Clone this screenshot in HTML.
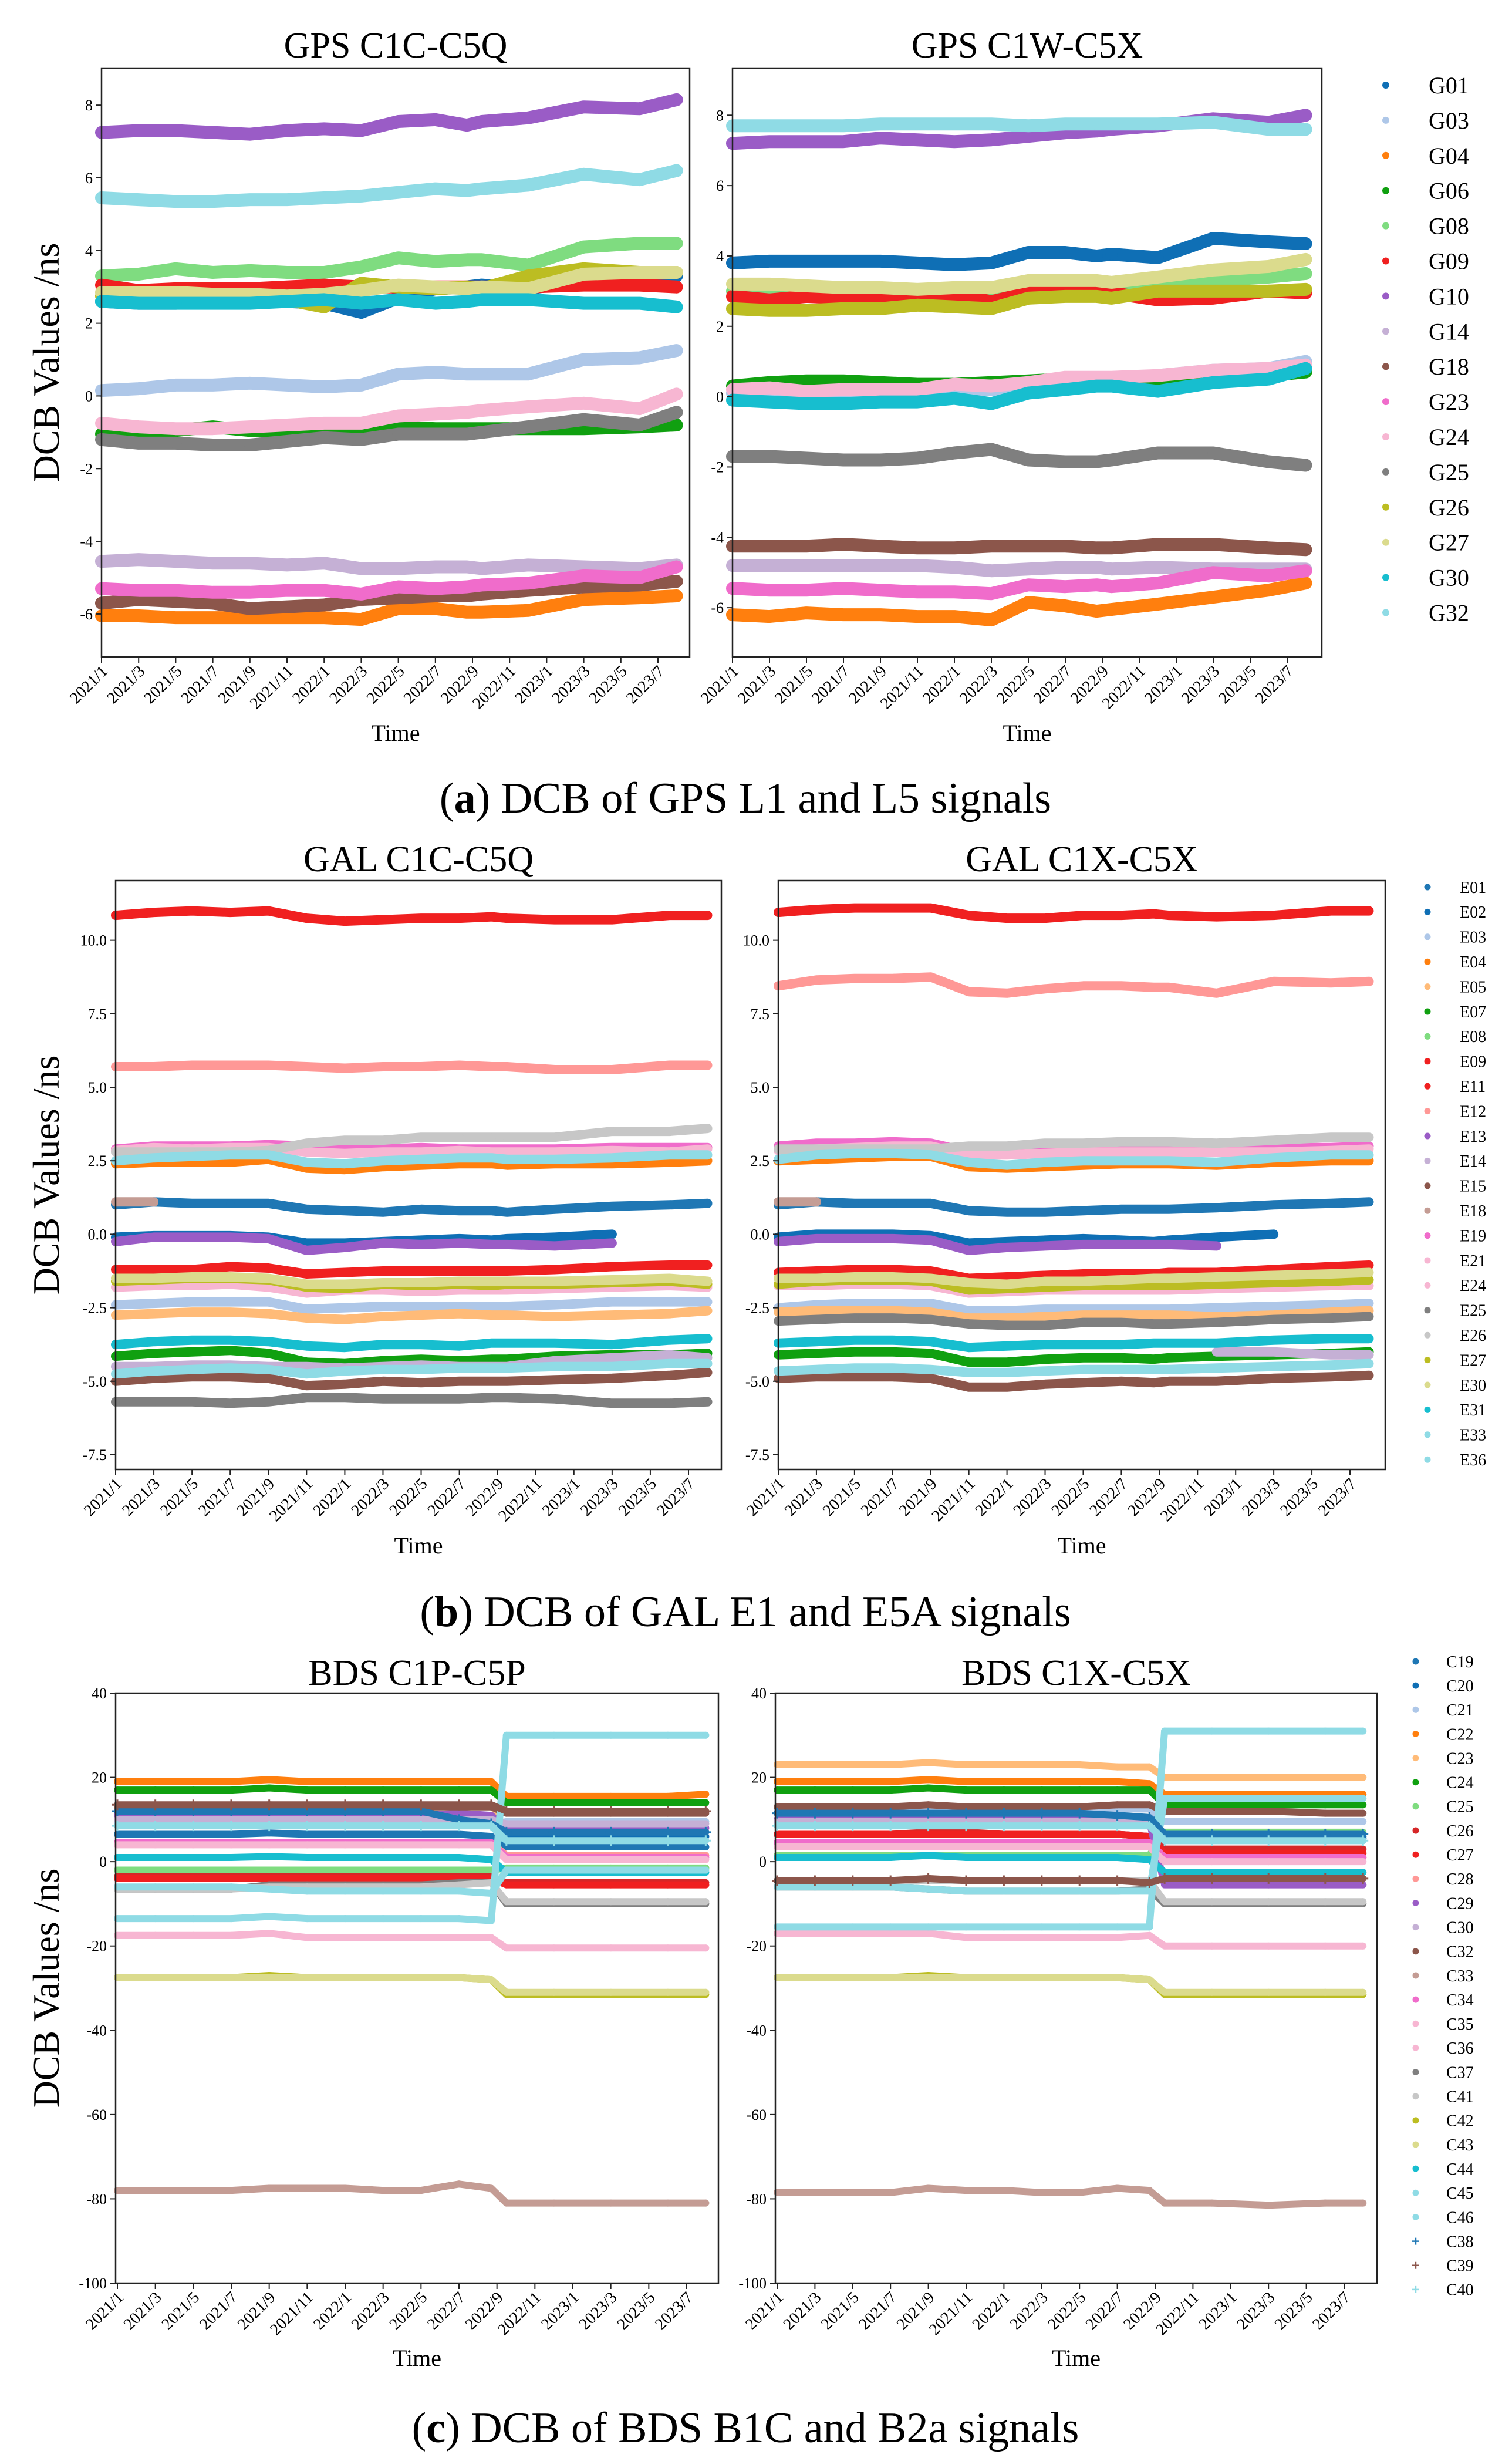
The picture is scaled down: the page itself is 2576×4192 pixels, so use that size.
<!DOCTYPE html>
<html><head><meta charset="utf-8"><title>DCB charts</title>
<style>
html,body{margin:0;padding:0;background:#fff;}
svg{display:block;font-family:"Liberation Serif",serif;}
</style></head>
<body>
<svg id="fig" xmlns="http://www.w3.org/2000/svg" width="2576" height="4192" viewBox="0 0 2576 4192">
<rect x="0" y="0" width="2576" height="4192" fill="#fff"/>
<text x="1270" y="1384" font-size="74" text-anchor="middle">(<tspan font-weight="bold">a</tspan>) DCB of GPS L1 and L5 signals</text>
<text x="1270" y="2770" font-size="74" text-anchor="middle">(<tspan font-weight="bold">b</tspan>) DCB of GAL E1 and E5A signals</text>
<text x="1270" y="4160" font-size="74" text-anchor="middle">(<tspan font-weight="bold">c</tspan>) DCB of BDS B1C and B2a signals</text>
</svg>
<script>
// ---------- shared time axis ----------
const months = [0,2,4,6,8,10,12,14,16,18,19.7,20.5,23,26,29,31];
const dateLabels = ["2021/1","2021/3","2021/5","2021/7","2021/9","2021/11","2022/1","2022/3","2022/5","2022/7","2022/9","2022/11","2023/1","2023/3","2023/5","2023/7"];
const dateTickMonths = [0,2,4,6,8,10,12,14,16,18,20,22,24,26,28,30];

// ---------- GPS ----------
const gpsNames = ["G01","G03","G04","G06","G08","G09","G10","G14","G18","G23","G24","G25","G26","G27","G30","G32"];
const gpsColors = ["#0f6fb5","#aec7e8","#ff7f0e","#10a010","#7fdc80","#f02020","#9a5cc6","#c5b0d5","#8c564b","#f06ccb","#f7b6d2","#7f7f7f","#bcbd22","#dbdb8d","#17becf","#8fdbe5"];
const gpsTicksLeft = [-6,-4,-2,0,2,4,6,8];
const gpsTicksRight = [-6,-4,-2,0,2,4,6,8];
const gpsLeftValues = [
 [2.6,2.55,2.55,2.6,2.6,2.6,2.55,2.3,2.7,2.95,3.0,3.05,2.95,3.2,3.3,3.3],
 [0.15,0.2,0.3,0.3,0.35,0.3,0.25,0.3,0.6,0.65,0.6,0.6,0.6,1.0,1.05,1.25],
 [-6.05,-6.05,-6.1,-6.1,-6.1,-6.1,-6.1,-6.15,-5.85,-5.85,-5.95,-5.95,-5.9,-5.6,-5.55,-5.5],
 [-1.05,-1.0,-0.95,-0.85,-0.95,-1.0,-1.0,-0.95,-0.85,-0.9,-0.9,-0.9,-0.9,-0.9,-0.85,-0.8],
 [3.3,3.35,3.5,3.4,3.45,3.4,3.4,3.55,3.8,3.7,3.75,3.75,3.6,4.1,4.2,4.2],
 [3.05,2.9,2.95,2.95,2.95,3.0,3.05,3.0,3.0,3.0,3.0,3.0,3.0,3.05,3.05,3.0],
 [7.25,7.3,7.3,7.25,7.2,7.3,7.35,7.3,7.55,7.6,7.45,7.55,7.65,7.95,7.9,8.15],
 [-4.55,-4.5,-4.55,-4.6,-4.6,-4.65,-4.6,-4.75,-4.75,-4.7,-4.7,-4.75,-4.65,-4.7,-4.75,-4.65],
 [-5.7,-5.6,-5.65,-5.7,-5.85,-5.8,-5.75,-5.6,-5.55,-5.5,-5.5,-5.45,-5.35,-5.25,-5.2,-5.1],
 [-5.3,-5.35,-5.35,-5.4,-5.4,-5.35,-5.35,-5.45,-5.25,-5.3,-5.25,-5.2,-5.15,-4.95,-5.0,-4.7],
 [-0.75,-0.85,-0.9,-0.9,-0.85,-0.8,-0.75,-0.75,-0.55,-0.5,-0.45,-0.4,-0.3,-0.2,-0.35,0.05],
 [-1.2,-1.3,-1.3,-1.35,-1.35,-1.25,-1.15,-1.2,-1.05,-1.05,-1.05,-1.0,-0.85,-0.65,-0.8,-0.45],
 [2.75,2.7,2.7,2.7,2.7,2.65,2.45,3.1,3.0,2.95,3.0,2.95,3.3,3.5,3.4,3.4],
 [2.85,2.85,2.85,2.8,2.8,2.75,2.8,2.9,3.05,3.0,2.95,3.0,2.95,3.35,3.4,3.4],
 [2.6,2.55,2.55,2.55,2.55,2.6,2.65,2.55,2.65,2.55,2.6,2.65,2.65,2.55,2.55,2.45],
 [5.45,5.4,5.35,5.35,5.4,5.4,5.45,5.5,5.6,5.7,5.65,5.7,5.8,6.1,5.95,6.2]
];
const gpsRightValues = [
 [3.8,3.85,3.85,3.85,3.85,3.8,3.75,3.8,4.1,4.1,4.0,4.05,3.95,4.5,4.4,4.35],
 [0.1,0.15,0.15,0.1,0.1,0.15,0.2,0.2,0.3,0.5,0.5,0.5,0.6,0.75,0.8,1.0],
 [-6.2,-6.25,-6.15,-6.2,-6.2,-6.25,-6.25,-6.35,-5.85,-5.95,-6.1,-6.05,-5.9,-5.7,-5.5,-5.3],
 [0.3,0.4,0.45,0.45,0.4,0.35,0.35,0.4,0.45,0.5,0.5,0.45,0.3,0.5,0.6,0.7],
 [3.0,3.0,3.0,3.0,2.95,2.95,2.95,2.95,3.2,3.15,3.1,3.1,3.1,3.3,3.4,3.5],
 [2.85,2.75,2.85,2.8,2.8,2.85,2.9,2.7,2.95,2.95,2.95,2.95,2.75,2.8,3.0,2.95],
 [7.2,7.25,7.25,7.25,7.35,7.3,7.25,7.3,7.4,7.5,7.55,7.6,7.7,7.9,7.8,8.0],
 [-4.8,-4.8,-4.8,-4.8,-4.8,-4.8,-4.85,-4.95,-4.9,-4.85,-4.85,-4.9,-4.85,-4.9,-4.9,-4.9],
 [-4.25,-4.25,-4.25,-4.2,-4.25,-4.3,-4.3,-4.25,-4.25,-4.25,-4.3,-4.3,-4.2,-4.2,-4.3,-4.35],
 [-5.45,-5.5,-5.5,-5.45,-5.5,-5.55,-5.55,-5.6,-5.35,-5.4,-5.35,-5.4,-5.3,-5.0,-5.1,-4.95],
 [0.2,0.25,0.15,0.2,0.2,0.2,0.35,0.3,0.4,0.55,0.55,0.55,0.6,0.75,0.8,0.9],
 [-1.7,-1.7,-1.75,-1.8,-1.8,-1.75,-1.6,-1.5,-1.8,-1.85,-1.85,-1.8,-1.6,-1.6,-1.85,-1.95],
 [2.5,2.45,2.45,2.5,2.5,2.6,2.55,2.5,2.8,2.85,2.85,2.8,3.0,3.0,3.0,3.05],
 [3.2,3.2,3.15,3.1,3.1,3.05,3.1,3.1,3.3,3.3,3.3,3.25,3.4,3.6,3.7,3.9],
 [-0.1,-0.15,-0.2,-0.2,-0.15,-0.15,-0.05,-0.2,0.1,0.2,0.3,0.3,0.15,0.4,0.5,0.8],
 [7.7,7.7,7.7,7.7,7.75,7.75,7.75,7.75,7.7,7.75,7.75,7.75,7.75,7.8,7.6,7.6]
];

// ---------- GAL ----------
const galNames = ["E01","E02","E03","E04","E05","E07","E08","E09","E11","E12","E13","E14","E15","E18","E19","E21","E24","E25","E26","E27","E30","E31","E33","E36"];
const galColors = ["#1f77b4","#0f6fb5","#aec7e8","#ff7f0e","#ffbb78","#10a010","#7fdc80","#f02020","#f02020","#ff9896","#9a5cc6","#c5b0d5","#8c564b","#c49c94","#f06ccb","#f7b6d2","#f7b6d2","#7f7f7f","#c7c7c7","#bcbd22","#dbdb8d","#17becf","#8fdbe5","#8fdbe5"];
const galTicks = [-7.5,-5.0,-2.5,0.0,2.5,5.0,7.5,10.0];
const N = null;
const galLeftValues = [
 [1.0,1.1,1.05,1.05,1.05,0.85,0.8,0.75,0.85,0.8,0.8,0.75,0.85,0.95,1.0,1.05],
 [-0.1,-0.05,-0.05,-0.05,-0.1,-0.3,-0.3,-0.25,-0.2,-0.15,-0.2,-0.15,-0.1,0.0,N,N],
 [-2.4,-2.35,-2.3,-2.3,-2.3,-2.55,-2.5,-2.45,-2.45,-2.45,-2.45,-2.45,-2.4,-2.3,-2.3,-2.3],
 [2.4,2.45,2.45,2.45,2.55,2.25,2.2,2.3,2.35,2.4,2.4,2.35,2.4,2.4,2.45,2.5],
 [-2.75,-2.7,-2.65,-2.65,-2.7,-2.85,-2.9,-2.8,-2.75,-2.7,-2.75,-2.75,-2.8,-2.75,-2.7,-2.6],
 [-4.15,-4.05,-4.0,-3.95,-4.05,-4.35,-4.4,-4.3,-4.25,-4.3,-4.25,-4.25,-4.15,-4.1,-4.1,-4.05],
 [N,N,N,N,N,N,N,N,N,N,N,N,N,N,N,N],
 [-1.2,-1.2,-1.2,-1.1,-1.15,-1.35,-1.3,-1.25,-1.25,-1.25,-1.25,-1.25,-1.2,-1.1,-1.05,-1.05],
 [10.85,10.95,11.0,10.95,11.0,10.75,10.65,10.7,10.75,10.75,10.8,10.75,10.7,10.7,10.85,10.85],
 [5.7,5.7,5.75,5.75,5.75,5.7,5.65,5.7,5.7,5.75,5.7,5.7,5.6,5.6,5.75,5.75],
 [-0.25,-0.1,-0.1,-0.1,-0.15,-0.55,-0.45,-0.3,-0.35,-0.3,-0.35,-0.35,-0.4,-0.3,N,N],
 [-4.5,-4.5,-4.45,-4.45,-4.5,-4.5,-4.55,-4.5,-4.45,-4.5,-4.5,-4.5,-4.3,-4.2,-4.1,-4.2],
 [-5.0,-4.9,-4.85,-4.85,-4.9,-5.15,-5.1,-5.0,-5.05,-5.0,-5.0,-5.0,-4.95,-4.9,-4.8,-4.7],
 [1.1,1.1,N,N,N,N,N,N,N,N,N,N,N,N,N,N],
 [2.9,3.0,3.0,3.0,3.05,3.0,2.9,2.9,2.95,2.9,2.9,2.9,2.9,2.95,2.95,2.95],
 [2.85,2.95,2.9,2.95,2.95,2.8,2.75,2.8,2.8,2.85,2.8,2.8,2.8,2.85,2.8,2.9],
 [-1.8,-1.75,-1.75,-1.7,-1.8,-2.0,-1.9,-1.9,-1.95,-1.9,-1.9,-1.9,-1.85,-1.8,-1.75,-1.8],
 [-5.7,-5.7,-5.7,-5.75,-5.7,-5.55,-5.55,-5.6,-5.6,-5.6,-5.55,-5.55,-5.6,-5.75,-5.75,-5.7],
 [2.8,2.8,2.8,2.8,2.85,3.1,3.2,3.2,3.3,3.3,3.3,3.3,3.3,3.5,3.5,3.6],
 [-1.6,-1.55,-1.5,-1.5,-1.55,-1.8,-1.85,-1.7,-1.75,-1.7,-1.75,-1.7,-1.7,-1.65,-1.6,-1.7],
 [-1.5,-1.5,-1.45,-1.45,-1.5,-1.7,-1.7,-1.65,-1.65,-1.6,-1.6,-1.6,-1.6,-1.55,-1.5,-1.6],
 [-3.75,-3.65,-3.6,-3.6,-3.65,-3.8,-3.85,-3.75,-3.75,-3.8,-3.7,-3.7,-3.7,-3.75,-3.6,-3.55],
 [-4.75,-4.65,-4.6,-4.55,-4.6,-4.75,-4.65,-4.6,-4.6,-4.55,-4.55,-4.55,-4.5,-4.5,-4.4,-4.4],
 [2.5,2.6,2.65,2.7,2.7,2.45,2.4,2.5,2.55,2.6,2.6,2.55,2.55,2.6,2.7,2.7]
];
const galRightValues = [
 [1.0,1.1,1.05,1.05,1.05,0.8,0.75,0.75,0.8,0.85,0.85,0.85,0.9,1.0,1.05,1.1],
 [-0.1,0.0,0.0,0.0,-0.05,-0.3,-0.25,-0.2,-0.15,-0.2,-0.25,-0.2,-0.1,0.0,N,N],
 [-2.5,-2.4,-2.35,-2.35,-2.35,-2.6,-2.6,-2.55,-2.55,-2.55,-2.55,-2.55,-2.5,-2.45,-2.4,-2.35],
 [2.5,2.55,2.6,2.65,2.65,2.3,2.25,2.3,2.35,2.4,2.4,2.4,2.35,2.45,2.5,2.5],
 [-2.65,-2.6,-2.6,-2.6,-2.65,-2.85,-2.85,-2.8,-2.75,-2.75,-2.75,-2.75,-2.8,-2.75,-2.65,-2.6],
 [-4.1,-4.05,-4.0,-4.0,-4.05,-4.35,-4.35,-4.25,-4.2,-4.2,-4.25,-4.2,-4.15,-4.1,-4.05,-4.0],
 [N,N,N,N,N,N,N,N,N,N,N,N,N,N,N,N],
 [-1.3,-1.25,-1.2,-1.2,-1.25,-1.5,-1.45,-1.4,-1.35,-1.35,-1.35,-1.3,-1.3,-1.2,-1.1,-1.05],
 [10.95,11.05,11.1,11.1,11.1,10.85,10.75,10.75,10.85,10.85,10.9,10.85,10.8,10.85,11.0,11.0],
 [8.45,8.65,8.7,8.7,8.75,8.25,8.2,8.35,8.45,8.45,8.4,8.4,8.2,8.6,8.55,8.6],
 [-0.25,-0.15,-0.15,-0.15,-0.2,-0.55,-0.45,-0.4,-0.35,-0.35,-0.35,-0.35,-0.4,N,N,N],
 [N,N,N,N,N,N,N,N,N,N,N,N,-4.0,-4.0,-4.1,-4.1],
 [-4.9,-4.85,-4.85,-4.85,-4.9,-5.2,-5.2,-5.1,-5.05,-5.0,-5.05,-5.0,-5.0,-4.9,-4.85,-4.8],
 [1.1,1.1,N,N,N,N,N,N,N,N,N,N,N,N,N,N],
 [3.0,3.1,3.1,3.15,3.1,2.8,2.8,2.85,2.85,2.85,2.9,2.9,2.9,2.95,2.95,3.0],
 [2.85,2.9,2.95,3.0,3.0,2.7,2.7,2.75,2.8,2.8,2.8,2.8,2.8,2.8,2.85,2.9],
 [-1.75,-1.75,-1.7,-1.7,-1.75,-2.0,-1.95,-1.9,-1.9,-1.9,-1.9,-1.9,-1.85,-1.8,-1.75,-1.75],
 [-2.95,-2.9,-2.85,-2.85,-2.9,-3.05,-3.1,-3.1,-3.0,-3.0,-3.05,-3.05,-3.0,-2.9,-2.85,-2.8],
 [2.9,2.9,2.9,2.9,2.9,3.0,3.0,3.1,3.1,3.15,3.15,3.15,3.1,3.2,3.3,3.3],
 [-1.7,-1.6,-1.55,-1.55,-1.6,-1.9,-1.85,-1.8,-1.75,-1.75,-1.75,-1.75,-1.7,-1.65,-1.6,-1.55],
 [-1.5,-1.5,-1.45,-1.45,-1.5,-1.65,-1.7,-1.6,-1.6,-1.55,-1.5,-1.5,-1.45,-1.4,-1.35,-1.3],
 [-3.7,-3.65,-3.6,-3.6,-3.65,-3.85,-3.8,-3.75,-3.75,-3.75,-3.7,-3.7,-3.7,-3.6,-3.55,-3.55],
 [-4.65,-4.6,-4.55,-4.55,-4.6,-4.7,-4.7,-4.65,-4.6,-4.6,-4.6,-4.6,-4.55,-4.5,-4.45,-4.4],
 [2.55,2.7,2.75,2.75,2.7,2.45,2.35,2.45,2.5,2.5,2.5,2.5,2.45,2.6,2.7,2.7]
];

// ---------- BDS ----------
const bdsNames = ["C19","C20","C21","C22","C23","C24","C25","C26","C27","C28","C29","C30","C32","C33","C34","C35","C36","C37","C41","C42","C43","C44","C45","C46","C38","C39","C40"];
const bdsColors = ["#1f77b4","#0f6fb5","#aec7e8","#ff7f0e","#ffbb78","#10a010","#7fdc80","#d62728","#f02020","#ff9896","#9a5cc6","#c5b0d5","#8c564b","#c49c94","#f06ccb","#f7b6d2","#f7b6d2","#7f7f7f","#c7c7c7","#bcbd22","#dbdb8d","#17becf","#8fdbe5","#8fdbe5","#1f77b4","#8c564b","#8fdbe5"];
const bdsMarkers = ["o","o","o","o","o","o","o","o","o","o","o","o","o","o","o","o","o","o","o","o","o","o","o","o","+","+","+"];
const bdsTicks = [-100,-80,-60,-40,-20,0,20,40];
const bdsLeftValues = [
 [6.5,6.5,6.5,6.5,6.8,6.5,6.5,6.5,6.5,6.5,6.0,3.5,3.5,3.5,3.5,3.5],
 [11.5,11.5,11.5,11.5,11.8,11.5,11.5,11.5,11.5,10.0,9.5,6.0,6.0,6.0,6.0,6.0],
 [9,9,9,9,9,9,9,9,9,9,9,9.5,9.5,9.5,9.5,9.5],
 [19,19,19,19,19.5,19,19,19,19,19,19,15.5,15.5,15.5,15.5,16],
 [11,11,11,11,11,11,11,11,11,11,11,12,12,12,12,12],
 [17,17,17,17,17.5,17,17,17,17,17,17,14,14,14,14,14],
 [-2,-2,-2,-2,-2,-2,-2,-2,-2,-2,-2,-1.5,-1.5,-1.5,-1.5,-1.5],
 [-3.5,-3.5,-3.5,-3.5,-3.5,-3.5,-3.5,-3.5,-3.5,-3.5,-3.5,-5,-5,-5,-5,-5],
 [-4,-4,-4,-4,-4,-4,-4,-4,-4,-4,-4,-5.5,-5.5,-5.5,-5.5,-5.5],
 [4.5,4.5,4.5,4.5,4.5,4.5,4.5,4.5,4.5,4.5,4.5,1.5,1.5,1.5,1.5,1.5],
 [11,11,11,11,11,11,11,11,11,11.5,11,8,8,8,8,8],
 [10,10,10,10,10,10,10,10,10,10,10,9,9,9,9,9],
 [13,13,13,13,13.5,13,13,13,13,13,13,11.5,11.5,11.5,11.5,11.5],
 [-78,-78,-78,-78,-77.5,-77.5,-77.5,-78,-78,-76.5,-77.5,-81,-81,-81,-81,-81],
 [4.5,4.5,4.5,4.5,4.5,4.5,4.5,4.5,4.5,4.5,4.5,1,1,1,1,1],
 [-17.5,-17.5,-17.5,-17.5,-17,-18,-18,-18,-18,-18,-18,-20.5,-20.5,-20.5,-20.5,-20.5],
 [4,4,4,4,4,4,4,4,4,4,4,0.5,0.5,0.5,0.5,0.5],
 [-6.5,-6.5,-6.5,-6.5,-5.5,-5.5,-5.5,-5.5,-5.5,-5,-5,-10,-10,-10,-10,-10],
 [-6.5,-6.5,-6.5,-6.5,-6,-6,-6,-6,-6,-5.5,-5,-9.5,-9.5,-9.5,-9.5,-9.5],
 [-27.5,-27.5,-27.5,-27.5,-27,-27.5,-27.5,-27.5,-27.5,-27.5,-28,-31.5,-31.5,-31.5,-31.5,-31.5],
 [-27.5,-27.5,-27.5,-27.5,-27.5,-27.5,-27.5,-27.5,-27.5,-27.5,-28,-31,-31,-31,-31,-31],
 [1,1,1,1,1.2,1,1,1,1,1,0.5,-2.5,-2.5,-2.5,-2.5,-2.5],
 [-13.5,-13.5,-13.5,-13.5,-13,-13.5,-13.5,-13.5,-13.5,-13.5,-14,30,30,30,30,30],
 [-6,-6,-6,-6,-6.5,-7,-7,-7,-7,-7,-7.5,-2,-2,-2,-2,-2],
 [12,12,12,12,12,12,12,12,12,10,9,7,7,7,7,7],
 [13.5,13.5,13.5,13.5,13.5,13.5,13.5,13.5,13.5,13.5,13.5,12,12,12,12,12],
 [8.5,8.5,8.5,8.5,8.5,8.5,8.5,8.5,8.5,8.5,8.5,5,5,5,5,5]
];
const bdsRightValues = [
 [6.5,6.5,6.5,6.5,6.5,6.5,6.5,6.5,6.5,6.5,6,5.5,5.5,5.5,5.5,5.5],
 [11.5,11.5,11.5,11.5,11.5,11.5,11.5,11.5,11.5,11,10,6,6,6,6,6],
 [12,12,12,12,12,12,12,12,12,12.5,12.5,9.5,9.5,9.5,9.5,9.5],
 [19,19,19,19,19.5,19,19,19,19,19,18.5,16,16,16,16,16],
 [23,23,23,23,23.5,23,23,23,23,22.5,22.5,20,20,20,20,20],
 [17,17,17,17,17.5,17,17,17,17,17,17,13.5,13.5,13.5,13.5,13.5],
 [1.5,1.5,1.5,1.5,1.5,1.5,1.5,1.5,1.5,1.5,1.5,7,7,7,7,7],
 [6.5,6.5,6.5,6.5,7,7,6.5,6.5,6.5,6.5,6,3,3,3,3,3],
 [6.5,6.5,6.5,6.5,6.5,6.5,6.5,6.5,6.5,6.5,6,2,2,2,2,2],
 [4.5,4.5,4.5,4.5,4.5,4.5,4.5,4.5,4.5,4.5,4.5,1,1,1,1,1],
 [10,10,10,10,10,10,10,10,10,10,9.5,-5.5,-5.5,-5.5,-5.5,-5.5],
 [9.5,9.5,9.5,9.5,9.5,9.5,9.5,9.5,9.5,9.5,9.5,5,5,5,5,5],
 [13,13,13,13,13.5,13,13,13,13,13.5,13.5,12,12,12,11.5,11.5],
 [-78.5,-78.5,-78.5,-78.5,-77.5,-78,-78,-78.5,-78.5,-77.5,-78,-81,-81,-81.5,-81,-81],
 [4.5,4.5,4.5,4.5,4.5,4.5,4.5,4.5,4.5,4.5,4.5,1,1,1,1,1],
 [-17,-17,-17,-17,-17,-18,-18,-18,-18,-18,-17.5,-20,-20,-20,-20,-20],
 [3.5,3.5,3.5,3.5,3.5,3.5,3.5,3.5,3.5,3.5,3.5,0,0,0,0,0],
 [-6,-6,-6,-6,-6.5,-7,-7,-7,-7,-7,-6.5,-10,-10,-10,-10,-10],
 [-4.5,-4.5,-4.5,-4.5,-4.5,-4.5,-4.5,-4.5,-4.5,-4.5,-4.5,-9.5,-9.5,-9.5,-9.5,-9.5],
 [-27.5,-27.5,-27.5,-27.5,-27,-27.5,-27.5,-27.5,-27.5,-27.5,-28,-31.5,-31.5,-31.5,-31.5,-31.5],
 [-27.5,-27.5,-27.5,-27.5,-27.5,-27.5,-27.5,-27.5,-27.5,-27.5,-28,-31,-31,-31,-31,-31],
 [1,1,1,1,1.5,1,1,1,1,1,0.5,-2.5,-2.5,-2.5,-2.5,-2.5],
 [-15.5,-15.5,-15.5,-15.5,-15.5,-15.5,-15.5,-15.5,-15.5,-15.5,-15.5,31,31,31,31,31],
 [-6,-6,-6,-6,-6.5,-7,-7,-7,-7,-7,-7,15,15,15,15,15],
 [11.5,11.5,11.5,11.5,11.5,11.5,11.5,11.5,11.5,11,10.5,6.5,6.5,6.5,6.5,6.5],
 [-4.5,-4.5,-4.5,-4.5,-4,-4.5,-4.5,-4.5,-4.5,-4.5,-5,-4,-4,-4,-4,-4],
 [8.5,8.5,8.5,8.5,8.5,8.5,8.5,8.5,8.5,8.5,8.5,5,5,5,5,5]
];

// ---------- rendering ----------
const SVGNS = "http://www.w3.org/2000/svg";
const svg = document.getElementById("fig");
function mk(tag, parent){ const e = document.createElementNS(SVGNS, tag); parent.appendChild(e); return e; }

function drawPanel(p, names, colors, markers, values){
  const g = mk("g", svg);
  
  
  const xs = m => p.m0x + (p.m30x - p.m0x) * m / 30;
  const ys = v => p.y1 - (v - p.vmin) / (p.vmax - p.vmin) * (p.y1 - p.y0);

  const sg = mk("g", g);
  
  
  for (let i = 0; i < names.length; i++){
    const vals = values[i];
    const col = colors[i];
    const mark = markers ? markers[i] : "o";
    let d = "", pen = false;
    for (let k = 0; k < months.length; k++){
      const v = vals[k];
      if (v === null || v === undefined){ pen = false; continue; }
      d += (pen ? "L" : "M") + xs(months[k]).toFixed(1) + " " + ys(v).toFixed(1) + " ";
      pen = true;
    }
    if (!d) continue;
    const path = mk("path", sg);
    
    
    path.setAttribute("d", d);
    path.setAttribute("fill", "none");
    path.setAttribute("stroke", col);
    path.setAttribute("stroke-width", p.lw);
    path.setAttribute("stroke-linecap", "round");
    path.setAttribute("stroke-linejoin", "round");
    for (let k = 0; k < months.length; k++){
      const v = vals[k];
      if (v === null || v === undefined) continue;
      if (mark === "+"){
        const pl = mk("path", sg);
        
        
        const cx = xs(months[k]), cy = ys(v), s = p.r + 3;
        pl.setAttribute("d", "M" + (cx - s) + " " + cy + "H" + (cx + s) + "M" + cx + " " + (cy - s) + "V" + (cy + s));
        pl.setAttribute("stroke", col);
        pl.setAttribute("stroke-width", 3);
      } else {
        const c = mk("circle", sg);
        
        
        c.setAttribute("cx", xs(months[k]).toFixed(1));
        c.setAttribute("cy", ys(v).toFixed(1));
        c.setAttribute("r", p.r);
        c.setAttribute("fill", col);
      }
    }
  }

  const fr = mk("rect", g);
  
  
  fr.setAttribute("x", p.x0); fr.setAttribute("y", p.y0);
  fr.setAttribute("width", p.x1 - p.x0); fr.setAttribute("height", p.y1 - p.y0);
  fr.setAttribute("fill", "none"); fr.setAttribute("stroke", "#222"); fr.setAttribute("stroke-width", 2.5);

  for (const t of p.ticks){
    const y = ys(t);
    const tl = mk("line", g);
    
    
    tl.setAttribute("x1", p.x0 - 9); tl.setAttribute("x2", p.x0);
    tl.setAttribute("y1", y); tl.setAttribute("y2", y);
    tl.setAttribute("stroke", "#222"); tl.setAttribute("stroke-width", 2);
    const tx = mk("text", g);
    
    
    tx.setAttribute("x", p.x0 - 15); tx.setAttribute("y", y + 9);
    tx.setAttribute("text-anchor", "end");
    tx.setAttribute("font-size", p.tickFs);
    tx.textContent = p.fmt ? t.toFixed(1) : String(t);
  }
  for (let k = 0; k < dateLabels.length; k++){
    const x = xs(dateTickMonths[k]);
    const tl = mk("line", g);
    
    
    tl.setAttribute("x1", x); tl.setAttribute("x2", x);
    tl.setAttribute("y1", p.y1); tl.setAttribute("y2", p.y1 + 10);
    tl.setAttribute("stroke", "#222"); tl.setAttribute("stroke-width", 2);
    const tx = mk("text", g);
    
    
    const lx = x + 12, ly = p.y1 + 26;
    tx.setAttribute("x", lx); tx.setAttribute("y", ly);
    tx.setAttribute("text-anchor", "end");
    tx.setAttribute("font-size", 28);
    tx.setAttribute("transform", "rotate(-45 " + lx + " " + ly + ")");
    tx.textContent = dateLabels[k];
  }
  const tt = mk("text", g);
  
  
  tt.setAttribute("x", (p.x0 + p.x1) / 2); tt.setAttribute("y", p.titleY);
  tt.setAttribute("text-anchor", "middle"); tt.setAttribute("font-size", 62);
  tt.textContent = p.title;
  const xt = mk("text", g);
  
  
  xt.setAttribute("x", (p.x0 + p.x1) / 2); xt.setAttribute("y", p.timeY);
  xt.setAttribute("text-anchor", "middle"); xt.setAttribute("font-size", 40);
  xt.textContent = "Time";
  if (p.ylab){
    const yt = mk("text", g);
    
    
    const cy = (p.y0 + p.y1) / 2;
    yt.setAttribute("x", p.ylabX); yt.setAttribute("y", cy);
    yt.setAttribute("text-anchor", "middle"); yt.setAttribute("font-size", 64);
    yt.setAttribute("transform", "rotate(-90 " + p.ylabX + " " + cy + ")");
    yt.textContent = "DCB Values /ns";
  }
}

function drawLegend(key, names, colors, markers, mx, lx, y0, step, fs, r){
  const g = mk("g", svg);
  
  
  for (let i = 0; i < names.length; i++){
    const y = y0 + i * step;
    const e = mk("g", g);
    
    
    if (markers && markers[i] === "+"){
      const pl = mk("path", e);
      pl.setAttribute("d", "M" + (mx - 6) + " " + y + "H" + (mx + 6) + "M" + mx + " " + (y - 6) + "V" + (y + 6));
      pl.setAttribute("stroke", colors[i]); pl.setAttribute("stroke-width", 2.5);
    } else {
      const c = mk("circle", e);
      c.setAttribute("cx", mx); c.setAttribute("cy", y); c.setAttribute("r", r); c.setAttribute("fill", colors[i]);
    }
    const t = mk("text", e);
    t.setAttribute("x", lx); t.setAttribute("y", y + fs * 0.35);
    t.setAttribute("font-size", fs);
    t.textContent = names[i];
  }
}

drawPanel({key:"gps-c1c-c5q", x0:173, x1:1175, y0:116, y1:1119, m0x:173, m30x:1121, vmin:-7.18, vmax:9.02,
  ticks:gpsTicksLeft, fmt:false, tickFs:26, lw:22, r:10, title:"GPS C1C-C5Q", titleY:98, timeY:1262, ylab:true, ylabX:100},
  gpsNames, gpsColors, null, gpsLeftValues);
drawPanel({key:"gps-c1w-c5x", x0:1248, x1:2252, y0:116, y1:1119, m0x:1248, m30x:2193, vmin:-7.40, vmax:9.34,
  ticks:gpsTicksRight, fmt:false, tickFs:26, lw:22, r:10, title:"GPS C1W-C5X", titleY:98, timeY:1262, ylab:false},
  gpsNames, gpsColors, null, gpsRightValues);
drawLegend("gps", gpsNames, gpsColors, null, 2361, 2434, 145, 59.9, 40, 6);

drawPanel({key:"gal-c1c-c5q", x0:197, x1:1229, y0:1500, y1:2503, m0x:197, m30x:1173, vmin:-8.0, vmax:12.03,
  ticks:galTicks, fmt:true, tickFs:26, lw:16, r:7, title:"GAL C1C-C5Q", titleY:1484, timeY:2646, ylab:true, ylabX:100},
  galNames, galColors, null, galLeftValues);
drawPanel({key:"gal-c1x-c5x", x0:1326, x1:2360, y0:1500, y1:2503, m0x:1326, m30x:2300, vmin:-8.0, vmax:12.03,
  ticks:galTicks, fmt:true, tickFs:26, lw:16, r:7, title:"GAL C1X-C5X", titleY:1484, timeY:2646, ylab:false},
  galNames, galColors, null, galRightValues);
drawLegend("gal", galNames, galColors, null, 2432, 2487, 1511, 42.4, 28, 5.5);

drawPanel({key:"bds-c1p-c5p", x0:197, x1:1224, y0:2884, y1:3889, m0x:200, m30x:1170, vmin:-100, vmax:40,
  ticks:bdsTicks, fmt:false, tickFs:26, lw:12, r:6, title:"BDS C1P-C5P", titleY:2870, timeY:4030, ylab:true, ylabX:100},
  bdsNames, bdsColors, bdsMarkers, bdsLeftValues);
drawPanel({key:"bds-c1x-c5x", x0:1321, x1:2346, y0:2884, y1:3889, m0x:1324, m30x:2290, vmin:-100, vmax:40,
  ticks:bdsTicks, fmt:false, tickFs:26, lw:12, r:6, title:"BDS C1X-C5X", titleY:2870, timeY:4030, ylab:false},
  bdsNames, bdsColors, bdsMarkers, bdsRightValues);
drawLegend("bds", bdsNames, bdsColors, bdsMarkers, 2412, 2464, 2830, 41.15, 28, 5.5);
</script>
</body></html>
